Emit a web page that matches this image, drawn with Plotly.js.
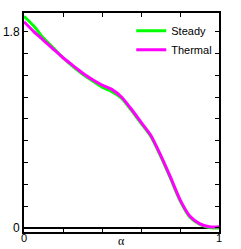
<!DOCTYPE html>
<html>
<head>
<meta charset="utf-8">
<script src="https://cdn.plot.ly/plotly-3.0.1.min.js"></script>
<style>html,body{margin:0;padding:0;background:#fff;}#chart{width:241px;height:249px;}</style>
</head>
<body>
<div id="chart"></div>
<script>
const alpha = [0, 0.05, 0.1, 0.15, 0.2, 0.25, 0.3, 0.35, 0.4, 0.45, 0.5, 0.55, 0.6, 0.65, 0.7, 0.75, 0.8, 0.85, 0.9, 0.95, 1.0];
const steady = [1.94, 1.85, 1.74, 1.65, 1.56, 1.48, 1.41, 1.35, 1.29, 1.25, 1.19, 1.08, 0.96, 0.84, 0.66, 0.46, 0.25, 0.10, 0.035, 0.005, 0.0];
const thermal = [1.89, 1.80, 1.72, 1.64, 1.56, 1.49, 1.42, 1.36, 1.31, 1.27, 1.20, 1.09, 0.97, 0.85, 0.67, 0.47, 0.26, 0.11, 0.04, 0.012, 0.01];
const xTickVals = [0, 0.2, 0.4, 0.6, 0.8, 1];
const xTickText = ['0', '', '', '', '', '1'];
const yTickVals = [0, 0.2, 0.4, 0.6, 0.8, 1.0, 1.2, 1.4, 1.6, 1.8];
const yTickText = ['0', '', '', '', '', '', '', '', '', '1.8'];

const font = {family: 'Liberation Sans, Arial, sans-serif', size: 12, color: '#000'};
const data = [
  {x: alpha, y: steady, name: 'Steady', mode: 'lines', line: {color: '#00ff00', width: 3, shape: 'spline', smoothing: 0.6}},
  {x: alpha, y: thermal, name: 'Thermal', mode: 'lines', line: {color: '#ff00ff', width: 3, shape: 'spline', smoothing: 0.6}}
];
const layout = {
  width: 241, height: 249,
  margin: {l: 24, r: 22, t: 13, b: 17, pad: 0},
  paper_bgcolor: '#fff', plot_bgcolor: '#fff',
  font: font,
  showlegend: true,
  legend: {x: 0.55, y: 0.985, xanchor: 'left', yanchor: 'top', bgcolor: 'rgba(0,0,0,0)',
           font: {family: 'Liberation Sans, Arial, sans-serif', size: 11, color: '#000'},
           itemwidth: 30, tracegroupgap: 0},
  xaxis: {range: [0, 1], tickvals: xTickVals, ticktext: xTickText, ticks: 'inside', ticklen: 4,
          tickcolor: '#000', tickwidth: 1, showline: true, linecolor: '#000', linewidth: 2,
          mirror: 'ticks', showgrid: false, zeroline: false,
          tickfont: {family: 'Liberation Sans, Arial, sans-serif', size: 11, color: '#000'},
          ticklabelstandoff: -5, fixedrange: true},
  yaxis: {range: [-0.037, 1.97], tickvals: yTickVals, ticktext: yTickText, ticks: 'inside', ticklen: 4,
          tickcolor: '#000', tickwidth: 1, showline: true, linecolor: '#000', linewidth: 2,
          mirror: 'ticks', showgrid: false, zeroline: true, zerolinecolor: '#000', zerolinewidth: 2,
          tickfont: font, fixedrange: true},
  annotations: [{text: 'α', xref: 'paper', yref: 'paper', x: 0.5, y: 0, yshift: 0, yanchor: 'top',
                 showarrow: false, font: {family: 'Liberation Serif, serif', size: 12, color: '#000'}}]
};
Plotly.newPlot('chart', data, layout, {displayModeBar: false, staticPlot: true});
</script>
</body>
</html>
